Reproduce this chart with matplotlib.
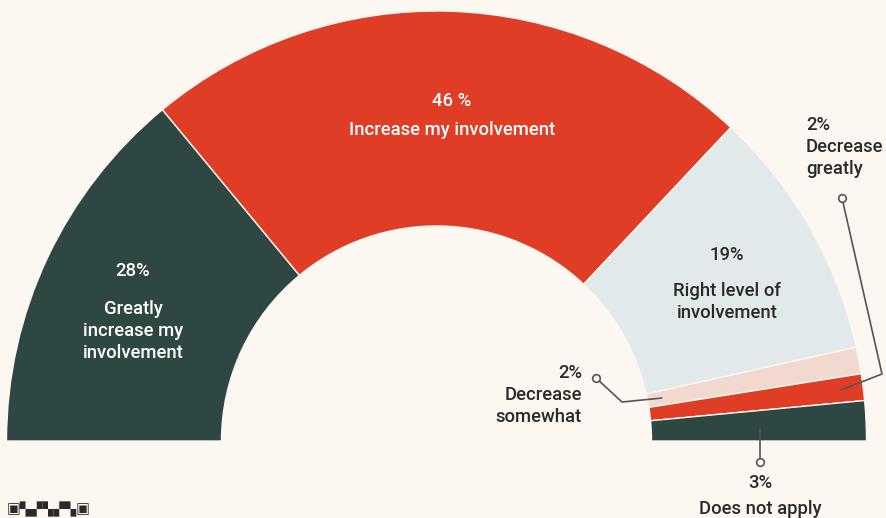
#Half-donut chart of how people want to change their involvement.
import numpy as np
import matplotlib.pyplot as plt

categories = ["Greatly increase my involvement", "Increase my involvement",
              "Right level of involvement", "Decrease somewhat",
              "Decrease greatly", "Does not apply"]
shares = [28, 46, 19, 2, 2, 3]
colors = ["#2e4743", "#df3d25", "#e1e9eb", "#f2d9d0", "#df3d25", "#2e4743"]

BG = "#fcf7f0"
DARK = "#2a2a2a"
W, H = 886, 518
CX, CY = 436.5, H - 441
R_OUT, R_IN = 430, 215
FS = 13.3


def px(x, y):
    """Convert picture pixel coords (y down) into axes data coords (y up)."""
    return x, H - y


def on_wedge(index, frac, radius):
    """Point inside wedge `index`, at fraction `frac` of its angular span."""
    start = sum(shares[:index])
    pos = start + frac * shares[index]
    ang = np.radians(180 - pos * 180 / sum(shares))
    return CX + radius * np.cos(ang), CY + radius * np.sin(ang)


def main():
    plt.rcParams['font.family'] = ['Roboto', 'DejaVu Sans']
    fig = plt.figure(figsize=(W / 100, H / 100), dpi=100, facecolor=BG)
    ax = fig.add_axes([0, 0, 1, 1])
    ax.set_facecolor(BG)

    #Pie with an invisible second half so the visible part is a half ring.
    values = shares + [sum(shares)]
    wedges, _ = ax.pie(values, colors=colors + [BG], startangle=180,
                       counterclock=False, center=(CX, CY), radius=R_OUT,
                       wedgeprops=dict(width=R_OUT - R_IN, edgecolor=BG,
                                       linewidth=1.0))
    wedges[-1].set_visible(False)

    ax.set_xlim(0, W)
    ax.set_ylim(0, H)
    ax.set_aspect('equal')
    ax.axis('off')

    #Labels inside the big segments.
    big = dict(ha='center', va='center', fontsize=FS, fontweight='medium',
               linespacing=1.3)
    ax.text(*px(452, 101), "46 %", color='white', **big)
    ax.text(*px(452, 130), "Increase my involvement", color='white', **big)
    ax.text(*px(133, 271), "28%", color='white', **big)
    ax.text(*px(133, 331), "Greatly\nincrease my\ninvolvement", color='white',
            **big)
    ax.text(*px(727, 255), "19%", color=DARK, **big)
    ax.text(*px(727, 302), "Right level of\ninvolvement", color=DARK, **big)

    #Callouts for the thin segments.
    line_kw = dict(color='#555555', lw=1.2)
    dot_kw = dict(marker='o', ms=5.5, mfc=BG, mec='#555555', mew=1.2)
    side = dict(va='center', fontsize=FS, fontweight='medium',
                linespacing=1.3, color=DARK)

    p = on_wedge(3, 0.5, 229)
    xs, ys = zip(px(596, 378), px(622, 402), p)
    ax.plot(xs, ys, **line_kw)
    ax.plot(*px(596, 378), **dot_kw)
    ax.text(*px(582, 395), "2%\nDecrease\nsomewhat", ha='right', **side)

    p = on_wedge(4, 0.5, 408)
    xs, ys = zip(px(842, 198), px(882, 374), p)
    ax.plot(xs, ys, **line_kw)
    ax.plot(*px(842, 198), **dot_kw)
    ax.text(*px(806, 147), "2%\nDecrease\ngreatly", ha='left', **side)

    xs, ys = zip(px(760, 430), px(760, 462))
    ax.plot(xs, ys, **line_kw)
    ax.plot(*px(760, 462), **dot_kw)
    ax.text(*px(760, 483), "3%", ha='center', **side)
    ax.text(*px(760, 509), "Does not apply", ha='center', **side)

    #Tiny source mark in the corner.
    ax.text(*px(7, 509), "\u25a3\u259a\u259e\u259a\u259e\u259a\u25a3",
            color=DARK, ha='left', va='center', fontsize=10.5,
            family='DejaVu Sans')

    fig.savefig("out.png", dpi=100, facecolor=BG)


if __name__ == '__main__':
    main()
